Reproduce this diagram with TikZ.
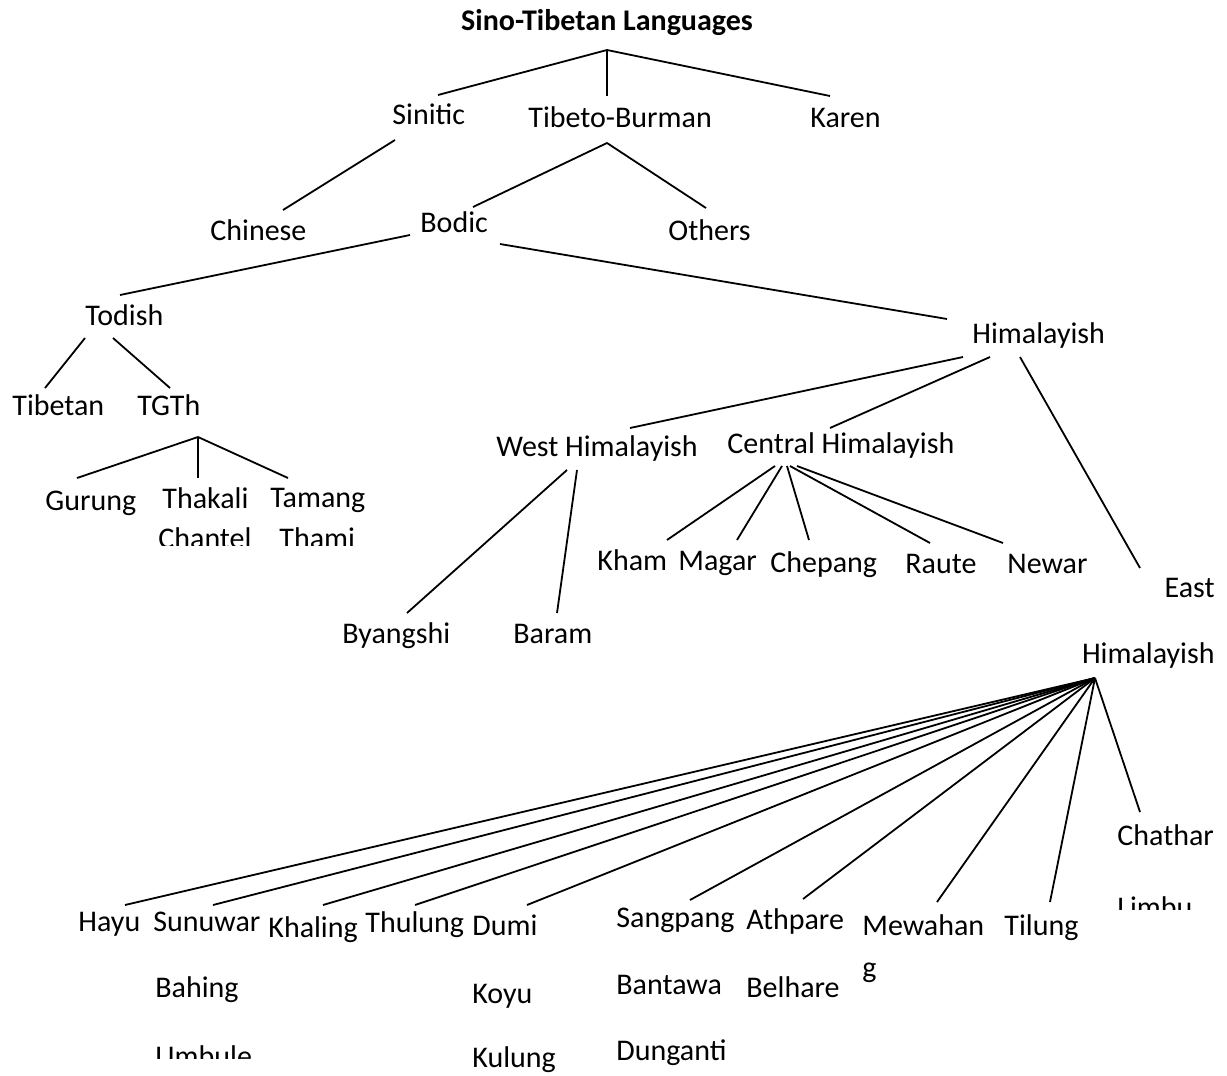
\documentclass[tikz,border=0pt]{standalone}
\usepackage{fontspec}
\setmainfont{Carlito}
\begin{document}
\begin{tikzpicture}[x=0.5pt,y=-0.5pt,
  lbl/.style={anchor=base west, inner sep=0pt, font=\fontsize{15}{18}\selectfont},
  lblr/.style={lbl, anchor=base east},
  link/.style={line width=0.9pt, black}]
\useasboundingbox[fill=white] (0,0) rectangle (1227,1076);

% ---------- labels ----------
\node[lbl, anchor=base, font=\bfseries\fontsize{15}{18}\selectfont] (root) at (607,31) {Sino-Tibetan Languages};
\node[lbl] (sinitic) at (392,124) {Sinitic};
\node[lbl] (tibburman) at (528,127) {Tibeto-Burman};
\node[lbl] (karen) at (810,127) {Karen};
\node[lbl] (chinese) at (210,240) {Chinese};
\node[lbl] (bodic) at (420,232) {Bodic};
\node[lbl] (others) at (668,240) {Others};
\node[lbl] (todish) at (85,325) {Todish};
\node[lbl] (himal) at (972,343) {Himalayish};
\node[lbl] (tibetan) at (12,415) {Tibetan};
\node[lbl] (tgth) at (137,415) {TGTh};
\node[lbl] (gurung) at (45,510) {Gurung};
\node[lbl] (thakali) at (162,508) {Thakali};
\node[lbl] (tamang) at (270,507) {Tamang};
\begin{scope}
  \clip (0,0) rectangle (1227,545);
  \node[lbl] (chantel) at (158,548) {Chantel};
  \node[lbl] (thami) at (279,548) {Thami};
\end{scope}
\node[lbl] (westh) at (496,456) {West Himalayish};
\node[lbl] (centralh) at (727,453) {Central Himalayish};
\node[lbl] (byangshi) at (342,643) {Byangshi};
\node[lbl] (baram) at (513,643) {Baram};
\node[lbl] (kham) at (597,570) {Kham};
\node[lbl] (magar) at (678,570) {Magar};
\node[lbl] (chepang) at (770,572) {Chepang};
\node[lbl] (raute) at (905,573) {Raute};
\node[lbl] (newar) at (1007,573) {Newar};
\node[lblr] (east) at (1215,597) {East};
\node[lblr] (easthim) at (1215,663) {Himalayish};

\node[lbl] (hayu) at (78,931) {Hayu};
\node[lbl] (sunuwar) at (153,931) {Sunuwar};
\node[lbl] (bahing) at (155,997) {Bahing};
\node[lbl] (khaling) at (268,937) {Khaling};
\node[lbl] (thulung) at (365,932) {Thulung};
\node[lbl] (dumi) at (472,935) {Dumi};
\node[lbl] (koyu) at (472,1003) {Koyu};
\node[lbl] (kulung) at (472,1067) {Kulung};
\node[lbl] (sangpang) at (616,927) {Sangpang};
\node[lbl] (bantawa) at (616,994) {Bantawa};
\node[lbl] (dunganti) at (616,1060) {Dunganti};
\node[lbl] (athpare) at (746,929) {Athpare};
\node[lbl] (belhare) at (746,997) {Belhare};
\node[lbl] (mewahan) at (862,935) {Mewahan};
\node[lbl] (mewahang) at (862,977) {g};
\node[lbl] (tilung) at (1004,935) {Tilung};
\node[lbl] (chathar) at (1117,845) {Chathar};
\begin{scope}
  \clip (0,0) rectangle (1227,1058);
  \node[lbl] (umbule) at (155,1066) {Umbule};
\end{scope}
\begin{scope}
  \clip (0,0) rectangle (1227,909);
  \node[lbl] (limbu) at (1117,917) {Limbu};
\end{scope}

% ---------- connector end points ----------
\coordinate (root-o) at (607,50);
\coordinate (sinitic-i) at (438,95);
\coordinate (tibburman-i) at (607,96);
\coordinate (karen-i) at (830,96);
\coordinate (sinitic-o) at (395,140);
\coordinate (chinese-i) at (283,210);
\coordinate (tibburman-o) at (607,143);
\coordinate (bodic-i) at (473,207);
\coordinate (others-i) at (706,208);
\coordinate (bodic-ol) at (410,235);
\coordinate (todish-i) at (120,295);
\coordinate (bodic-or) at (500,244);
\coordinate (himal-i) at (947,319);
\coordinate (todish-ol) at (85,338);
\coordinate (tibetan-i) at (45,388);
\coordinate (todish-or) at (113,338);
\coordinate (tgth-i) at (170,388);
\coordinate (tgth-o) at (198,437);
\coordinate (gurung-i) at (77,478);
\coordinate (thakali-i) at (198,478);
\coordinate (tamang-i) at (288,478);
\coordinate (himal-ow) at (963,357);
\coordinate (westh-i) at (630,428);
\coordinate (himal-oc) at (990,357);
\coordinate (centralh-i) at (830,428);
\coordinate (himal-oe) at (1020,357);
\coordinate (east-i) at (1140,568);
\coordinate (westh-ol) at (567,470);
\coordinate (byangshi-i) at (407,613);
\coordinate (westh-or) at (577,470);
\coordinate (baram-i) at (557,613);
\coordinate (centralh-o1) at (775,466);
\coordinate (centralh-o2) at (782,466);
\coordinate (centralh-o3) at (787,466);
\coordinate (centralh-o4) at (790,466);
\coordinate (centralh-o5) at (797,466);
\coordinate (kham-i) at (667,540);
\coordinate (magar-i) at (737,540);
\coordinate (chepang-i) at (809,540);
\coordinate (raute-i) at (930,543);
\coordinate (newar-i) at (1003,543);
\coordinate (easthim-o) at (1095,678);
\coordinate (hayu-i) at (125,905);
\coordinate (sunuwar-i) at (213,905);
\coordinate (khaling-i) at (323,905);
\coordinate (thulung-i) at (415,905);
\coordinate (dumi-i) at (527,905);
\coordinate (sangpang-i) at (690,900);
\coordinate (athpare-i) at (803,899);
\coordinate (mewahan-i) at (937,902);
\coordinate (tilung-i) at (1050,902);
\coordinate (chathar-i) at (1140,812);

% ---------- connectors ----------
\draw[link] (root-o) -- (sinitic-i);
\draw[link] (root-o) -- (tibburman-i);
\draw[link] (root-o) -- (karen-i);
\draw[link] (sinitic-o) -- (chinese-i);
\draw[link] (tibburman-o) -- (bodic-i);
\draw[link] (tibburman-o) -- (others-i);
\draw[link] (bodic-ol) -- (todish-i);
\draw[link] (bodic-or) -- (himal-i);
\draw[link] (todish-ol) -- (tibetan-i);
\draw[link] (todish-or) -- (tgth-i);
\draw[link] (tgth-o) -- (gurung-i);
\draw[link] (tgth-o) -- (thakali-i);
\draw[link] (tgth-o) -- (tamang-i);
\draw[link] (himal-ow) -- (westh-i);
\draw[link] (himal-oc) -- (centralh-i);
\draw[link] (himal-oe) -- (east-i);
\draw[link] (westh-ol) -- (byangshi-i);
\draw[link] (westh-or) -- (baram-i);
\draw[link] (centralh-o1) -- (kham-i);
\draw[link] (centralh-o2) -- (magar-i);
\draw[link] (centralh-o3) -- (chepang-i);
\draw[link] (centralh-o4) -- (raute-i);
\draw[link] (centralh-o5) -- (newar-i);
\foreach \t in {hayu,sunuwar,khaling,thulung,dumi,sangpang,athpare,mewahan,tilung,chathar}
  \draw[link] (easthim-o) -- (\t-i);
\end{tikzpicture}
\end{document}
